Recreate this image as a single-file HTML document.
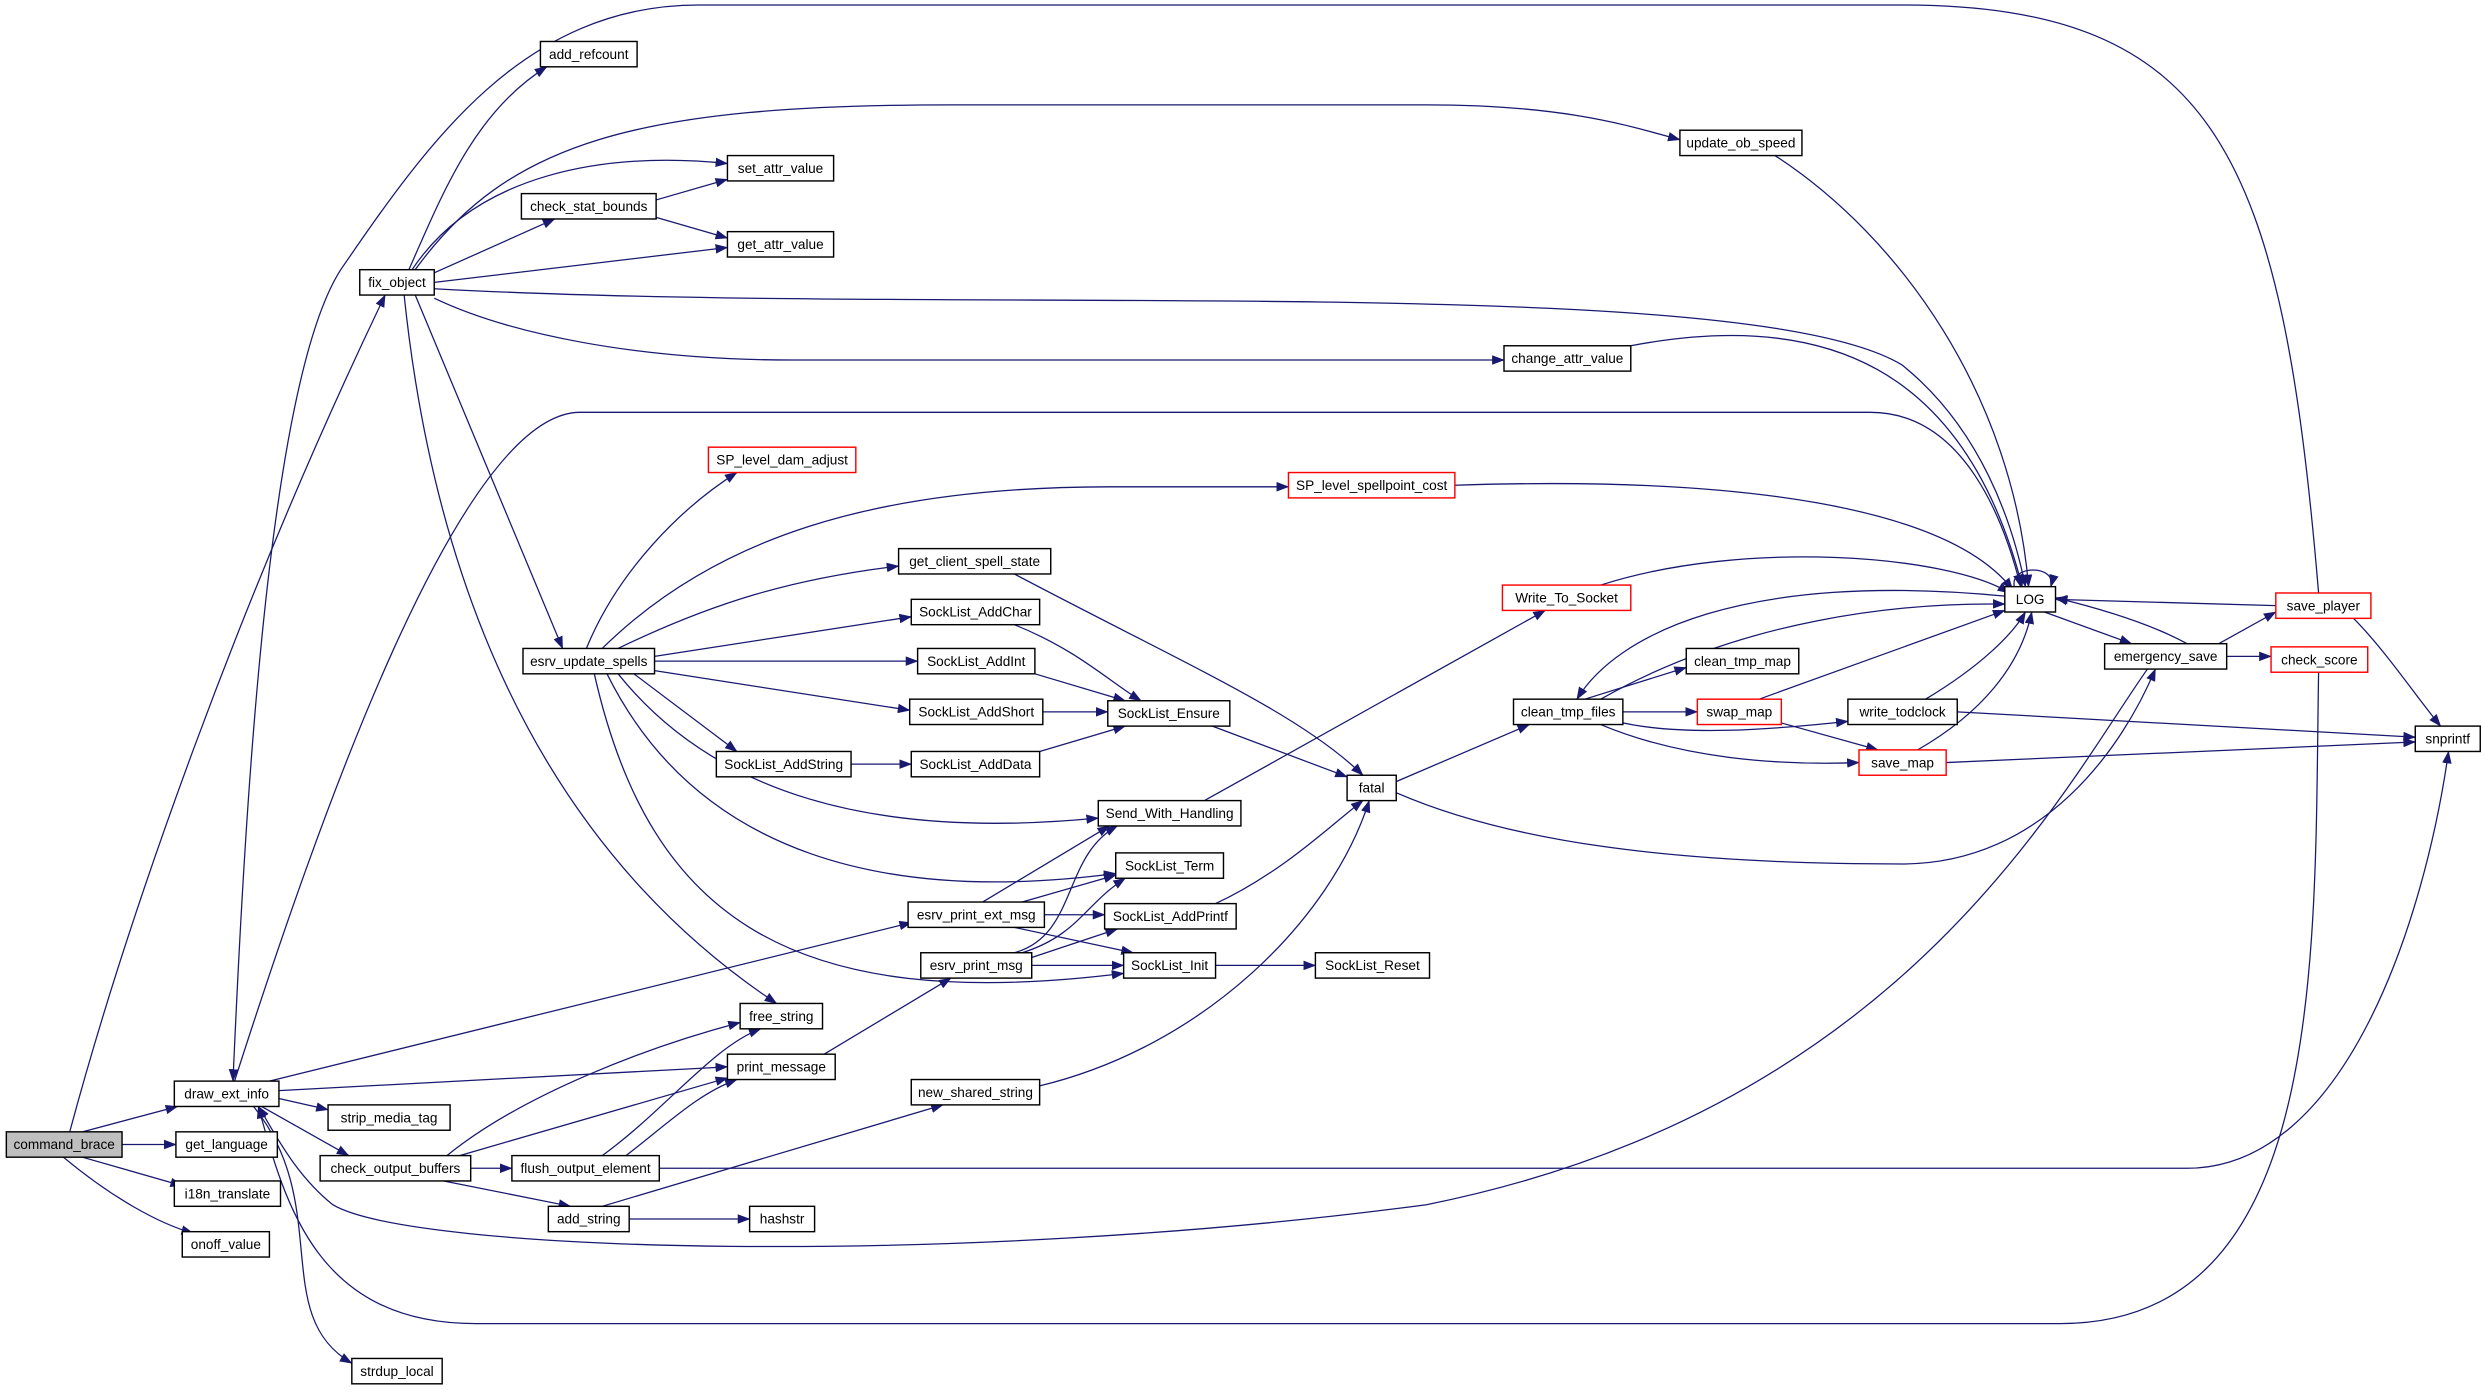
<!DOCTYPE html>
<html><head><meta charset="utf-8"><style>
html,body{margin:0;padding:0;background:#fff;}
svg{display:block;}
text{font-family:"Liberation Sans",sans-serif;font-size:8.6px;fill:#000;}
.n{fill:#fff;stroke:#000;stroke-width:0.9;}
.r{fill:#fff;stroke:#f00;stroke-width:0.9;}
.e{fill:none;stroke:#191970;stroke-width:0.8;marker-end:url(#a);}
</style></head><body>
<svg width="2485" height="1392" viewBox="0 0 1568 878" xmlns="http://www.w3.org/2000/svg">
<defs><marker id="a" markerWidth="8" markerHeight="6" refX="7.5" refY="3" orient="auto" markerUnits="userSpaceOnUse"><path d="M0,0 L8,3 L0,6 z" fill="#191970"/></marker></defs>
<g>
<path class="e" d="M52,714 L112,698"/>
<path class="e" d="M77,722 L111,722"/>
<path class="e" d="M52,730 L115,748"/>
<path class="e" d="M40,730 C70,755 100,772 122,778"/>
<path class="e" d="M44,714 C80,580 150,380 243,186"/>
<path class="e" d="M1463,374 C1440,100 1400,3 1200,3 L441,3 C330,3 270,90 215,170 C170,240 155,500 147,682"/>
<path class="e" d="M148,682 C200,520 290,260 366,260 L1180,260 C1240,260 1265,330 1275,370"/>
<path class="e" d="M170,682 L575,582"/>
<path class="e" d="M176,688 L459,673"/>
<path class="e" d="M176,693 L207,700"/>
<path class="e" d="M165,698 L220,729"/>
<path class="e" d="M160,698 C210,760 170,830 222,860"/>
<path class="e" d="M1463,424 C1460,600 1470,835 1300,835 L300,835 C200,835 180,760 163,698"/>
<path class="e" d="M1355,422 C1300,500 1200,700 900,760 C600,800 260,790 210,760 C185,740 172,712 163,698"/>
<path class="e" d="M258,170 C280,120 300,70 345,42"/>
<path class="e" d="M260,170 C300,110 380,95 459,103"/>
<path class="e" d="M274,172 L350,138"/>
<path class="e" d="M274,178 L459,156"/>
<path class="e" d="M262,170 C320,90 400,66 600,66 L900,66 C990,66 1030,80 1060,88"/>
<path class="e" d="M274,182 C600,200 1100,170 1200,230 C1250,270 1270,330 1278,370"/>
<path class="e" d="M274,188 C320,210 400,227 500,227 L949,227"/>
<path class="e" d="M262,186 L355,409"/>
<path class="e" d="M255,186 C270,330 320,520 490,633"/>
<path class="e" d="M414,126 L459,113"/>
<path class="e" d="M414,137 L459,150"/>
<path class="e" d="M1120,98 C1200,150 1270,250 1280,370"/>
<path class="e" d="M1029,218 C1150,195 1240,230 1276,370"/>
<path class="e" d="M370,409 C390,360 430,320 465,298"/>
<path class="e" d="M380,409 C450,340 550,307 700,307 L813,307"/>
<path class="e" d="M390,409 C450,380 500,365 567,357"/>
<path class="e" d="M413,414 L575,389"/>
<path class="e" d="M413,417 L579,417"/>
<path class="e" d="M413,423 L574,448"/>
<path class="e" d="M400,425 L465,474"/>
<path class="e" d="M390,425 C450,500 550,530 693,516"/>
<path class="e" d="M383,425 C440,540 560,570 704,551"/>
<path class="e" d="M375,425 C410,580 500,640 709,614"/>
<path class="e" d="M640,394 C680,410 700,430 720,442"/>
<path class="e" d="M653,425 L710,442"/>
<path class="e" d="M658,449 L699,449"/>
<path class="e" d="M537,482 L575,482"/>
<path class="e" d="M656,474 L710,458"/>
<path class="e" d="M640,362 C750,420 820,450 860,489"/>
<path class="e" d="M765,458 L850,490"/>
<path class="e" d="M918,306 C1100,300 1230,320 1270,372"/>
<path class="e" d="M767,570 C810,550 840,520 860,505"/>
<path class="e" d="M656,685 C760,660 840,580 864,505"/>
<path class="e" d="M881,493 L965,457"/>
<path class="e" d="M881,500 C950,530 1050,545 1200,545 C1290,545 1340,470 1360,422"/>
<path class="e" d="M760,505 L975,385"/>
<path class="e" d="M1010,369 C1100,340 1230,350 1268,374"/>
<path class="e" d="M1000,441 L1064,421"/>
<path class="e" d="M1024,449 L1071,449"/>
<path class="e" d="M1020,455 C1060,465 1120,460 1166,455"/>
<path class="e" d="M1010,457 C1060,478 1120,483 1173,481"/>
<path class="e" d="M1010,441 C1100,390 1200,380 1265,381"/>
<path class="e" d="M1265,376 C1100,360 1020,400 995,441"/>
<path class="e" d="M1110,441 L1265,385"/>
<path class="e" d="M1124,456 L1185,473"/>
<path class="e" d="M1215,441 C1250,420 1270,400 1278,386"/>
<path class="e" d="M1235,449 L1524,465"/>
<path class="e" d="M1210,473 C1250,450 1275,420 1282,386"/>
<path class="e" d="M1228,481 L1524,468"/>
<path class="e" d="M1271,370 C1268,356 1298,356 1294,370"/>
<path class="e" d="M1290,386 L1345,406"/>
<path class="e" d="M1380,406 C1360,395 1330,385 1297,377"/>
<path class="e" d="M1400,406 L1436,386"/>
<path class="e" d="M1405,414 L1433,414"/>
<path class="e" d="M1436,382 L1297,378"/>
<path class="e" d="M1485,390 C1505,410 1525,440 1540,458"/>
<path class="e" d="M416,737 L1380,737 C1480,737 1530,580 1545,474"/>
<path class="e" d="M297,737 L323,737"/>
<path class="e" d="M282,729 C330,690 410,660 467,645"/>
<path class="e" d="M290,729 L459,680"/>
<path class="e" d="M280,745 L360,761"/>
<path class="e" d="M380,729 C420,700 450,660 480,649"/>
<path class="e" d="M395,729 C420,710 440,690 465,681"/>
<path class="e" d="M380,761 L595,697"/>
<path class="e" d="M397,769 L473,769"/>
<path class="e" d="M520,665 L600,617"/>
<path class="e" d="M620,569 L700,521"/>
<path class="e" d="M645,569 L704,552"/>
<path class="e" d="M659,577 L697,577"/>
<path class="e" d="M640,585 L715,601"/>
<path class="e" d="M640,601 C680,590 670,540 705,521"/>
<path class="e" d="M645,601 C680,590 685,570 710,554"/>
<path class="e" d="M651,604 L705,586"/>
<path class="e" d="M651,609 L709,609"/>
<path class="e" d="M767,609 L830,609"/>
</g>
<g>
<rect x="4" y="714" width="73" height="16" fill="#bfbfbf" stroke="#000" stroke-width="0.9"/><text x="40.5" y="725" text-anchor="middle">command_brace</text>
<rect class="n" x="110" y="682" width="66" height="16"/><text x="143" y="693" text-anchor="middle">draw_ext_info</text>
<rect class="n" x="111" y="714" width="64" height="16"/><text x="143" y="725" text-anchor="middle">get_language</text>
<rect class="n" x="110" y="745" width="67" height="16"/><text x="143.5" y="756" text-anchor="middle">i18n_translate</text>
<rect class="n" x="115" y="777" width="55" height="16"/><text x="142.5" y="788" text-anchor="middle">onoff_value</text>
<rect class="n" x="207" y="697" width="77" height="16"/><text x="245.5" y="708" text-anchor="middle">strip_media_tag</text>
<rect class="n" x="202" y="729" width="95" height="16"/><text x="249.5" y="740" text-anchor="middle">check_output_buffers</text>
<rect class="n" x="222" y="857" width="57" height="16"/><text x="250.5" y="868" text-anchor="middle">strdup_local</text>
<rect class="n" x="341" y="26" width="61" height="16"/><text x="371.5" y="37" text-anchor="middle">add_refcount</text>
<rect class="n" x="227" y="170" width="47" height="16"/><text x="250.5" y="181" text-anchor="middle">fix_object</text>
<rect class="n" x="329" y="122" width="85" height="16"/><text x="371.5" y="133" text-anchor="middle">check_stat_bounds</text>
<rect class="n" x="459" y="98" width="67" height="16"/><text x="492.5" y="109" text-anchor="middle">set_attr_value</text>
<rect class="n" x="459" y="146" width="67" height="16"/><text x="492.5" y="157" text-anchor="middle">get_attr_value</text>
<rect class="n" x="1060" y="82" width="77" height="16"/><text x="1098.5" y="93" text-anchor="middle">update_ob_speed</text>
<rect class="n" x="949" y="218" width="80" height="16"/><text x="989" y="229" text-anchor="middle">change_attr_value</text>
<rect class="r" x="447" y="282" width="93" height="16"/><text x="493.5" y="293" text-anchor="middle">SP_level_dam_adjust</text>
<rect class="r" x="813" y="298" width="105" height="16"/><text x="865.5" y="309" text-anchor="middle">SP_level_spellpoint_cost</text>
<rect class="n" x="567" y="346" width="96" height="16"/><text x="615" y="357" text-anchor="middle">get_client_spell_state</text>
<rect class="n" x="330" y="409" width="83" height="16"/><text x="371.5" y="420" text-anchor="middle">esrv_update_spells</text>
<rect class="n" x="575" y="378" width="81" height="16"/><text x="615.5" y="389" text-anchor="middle">SockList_AddChar</text>
<rect class="n" x="579" y="409" width="74" height="16"/><text x="616" y="420" text-anchor="middle">SockList_AddInt</text>
<rect class="n" x="574" y="441" width="84" height="16"/><text x="616" y="452" text-anchor="middle">SockList_AddShort</text>
<rect class="n" x="452" y="474" width="85" height="16"/><text x="494.5" y="485" text-anchor="middle">SockList_AddString</text>
<rect class="n" x="575" y="474" width="81" height="16"/><text x="615.5" y="485" text-anchor="middle">SockList_AddData</text>
<rect class="n" x="699" y="442" width="77" height="16"/><text x="737.5" y="453" text-anchor="middle">SockList_Ensure</text>
<rect class="n" x="693" y="505" width="90" height="16"/><text x="738" y="516" text-anchor="middle">Send_With_Handling</text>
<rect class="n" x="704" y="538" width="68" height="16"/><text x="738" y="549" text-anchor="middle">SockList_Term</text>
<rect class="n" x="697" y="570" width="83" height="16"/><text x="738.5" y="581" text-anchor="middle">SockList_AddPrintf</text>
<rect class="n" x="709" y="601" width="58" height="16"/><text x="738" y="612" text-anchor="middle">SockList_Init</text>
<rect class="n" x="830" y="601" width="72" height="16"/><text x="866" y="612" text-anchor="middle">SockList_Reset</text>
<rect class="n" x="573" y="569" width="86" height="16"/><text x="616" y="580" text-anchor="middle">esrv_print_ext_msg</text>
<rect class="n" x="581" y="601" width="70" height="16"/><text x="616" y="612" text-anchor="middle">esrv_print_msg</text>
<rect class="n" x="467" y="633" width="52" height="16"/><text x="493" y="644" text-anchor="middle">free_string</text>
<rect class="n" x="459" y="665" width="68" height="16"/><text x="493" y="676" text-anchor="middle">print_message</text>
<rect class="n" x="575" y="681" width="81" height="16"/><text x="615.5" y="692" text-anchor="middle">new_shared_string</text>
<rect class="n" x="323" y="729" width="93" height="16"/><text x="369.5" y="740" text-anchor="middle">flush_output_element</text>
<rect class="n" x="346" y="761" width="51" height="16"/><text x="371.5" y="772" text-anchor="middle">add_string</text>
<rect class="n" x="473" y="761" width="41" height="16"/><text x="493.5" y="772" text-anchor="middle">hashstr</text>
<rect class="n" x="850" y="489" width="31" height="16"/><text x="865.5" y="500" text-anchor="middle">fatal</text>
<rect class="r" x="948" y="369" width="81" height="16"/><text x="988.5" y="380" text-anchor="middle">Write_To_Socket</text>
<rect class="n" x="955" y="441" width="69" height="16"/><text x="989.5" y="452" text-anchor="middle">clean_tmp_files</text>
<rect class="n" x="1064" y="409" width="71" height="16"/><text x="1099.5" y="420" text-anchor="middle">clean_tmp_map</text>
<rect class="r" x="1071" y="441" width="53" height="16"/><text x="1097.5" y="452" text-anchor="middle">swap_map</text>
<rect class="n" x="1166" y="441" width="69" height="16"/><text x="1200.5" y="452" text-anchor="middle">write_todclock</text>
<rect class="r" x="1173" y="473" width="55" height="16"/><text x="1200.5" y="484" text-anchor="middle">save_map</text>
<rect class="n" x="1265" y="370" width="32" height="16"/><text x="1281" y="381" text-anchor="middle">LOG</text>
<rect class="n" x="1328" y="406" width="77" height="16"/><text x="1366.5" y="417" text-anchor="middle">emergency_save</text>
<rect class="r" x="1436" y="374" width="60" height="16"/><text x="1466" y="385" text-anchor="middle">save_player</text>
<rect class="r" x="1433" y="408" width="61" height="16"/><text x="1463.5" y="419" text-anchor="middle">check_score</text>
<rect class="n" x="1524" y="458" width="41" height="16"/><text x="1544.5" y="469" text-anchor="middle">snprintf</text>
</g>
</svg>
</body></html>
